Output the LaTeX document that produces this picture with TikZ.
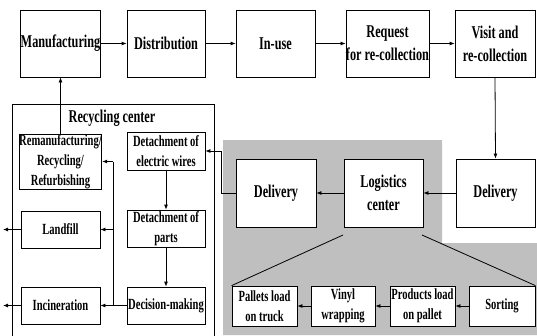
\documentclass[tikz,border=0pt]{standalone}
\usepackage{fontspec}
\setmainfont{Liberation Serif}[FakeStretch=0.68]
\usetikzlibrary{arrows.meta}
\begin{document}
\begin{tikzpicture}[x=1pt,y=-1pt,
  box/.style={draw,fill=white,line width=0.8pt,inner sep=0pt,align=center,
    font=\bfseries\fontsize{18}{23}\selectfont},
  sbox/.style={box,font=\bfseries\fontsize{15.5}{20}\selectfont},
  arr/.style={line width=0.8pt,-{Latex[length=5pt,width=4pt]}},
  ln/.style={line width=0.8pt}]
\useasboundingbox (0,0) rectangle (537,335);
% gray logistics area
\fill[gray!50] (223,140) -- (442,140) -- (442,243) -- (537,243) -- (537,335) -- (223,335) -- cycle;
% recycling center frame
\draw[ln] (12,340) -- (12,104) -- (214,104) -- (214,340);
\node[font=\bfseries\fontsize{18}{21}\selectfont] (rc) at (112,118) {Recycling center};
% top row
\node[box,minimum width=79,minimum height=67] (man) at (60.5,43.5) {Manufacturing};
\node[box,minimum width=78,minimum height=67] (dist) at (166,43.5) {Distribution};
\node[box,minimum width=79,minimum height=67] (inuse) at (275.5,43.5) {In-use};
\node[box,minimum width=83,minimum height=67] (req) at (387.5,43.5) {Request\\for re-collection};
\node[box,minimum width=80,minimum height=67] (visit) at (495,43.5) {Visit and\\re-collection};
% recycling center contents
\node[sbox,minimum width=79,minimum height=55] (reman) at (60.5,161.5) {Remanufacturing/\\Recycling/\\Refurbishing};
\node[sbox,minimum width=78,minimum height=38] (wires) at (166,151) {Detachment of\\electric wires};
\node[sbox,minimum width=78,minimum height=37] (parts) at (166,228.5) {Detachment of\\parts};
\node[sbox,minimum width=78,minimum height=37] (dec) at (166,305.5) {Decision-making};
\node[sbox,minimum width=79,minimum height=37] (land) at (60.5,229.5) {Landfill};
\node[sbox,minimum width=79,minimum height=37] (inc) at (60.5,305.5) {Incineration};
% logistics
\node[box,minimum width=80,minimum height=68] (dell) at (276,193) {Delivery};
\node[box,minimum width=79,minimum height=68] (log) at (383.5,193) {Logistics\\center};
\node[box,minimum width=79,minimum height=68] (delr) at (495.5,193) {Delivery};
\node[sbox,minimum width=65,minimum height=40] (pal) at (264.5,306) {Pallets load\\on truck};
\node[sbox,minimum width=64,minimum height=40] (vin) at (343,306) {Vinyl\\wrapping};
\node[sbox,minimum width=65,minimum height=40] (prod) at (422.5,306) {Products load\\on pallet};
\node[sbox,minimum width=66,minimum height=40] (sort) at (502,306) {Sorting};
% coordinates
\coordinate (bus1) at (113,161.5);
\coordinate (bus2) at (113,229.5);
\coordinate (bus3) at (113,305.5);
\coordinate (outl) at (3,229.5);
\coordinate (outi) at (3,305.5);
\coordinate (j1) at (221,193);
\coordinate (j2) at (221,151);
\coordinate (l1) at (343,235);
\coordinate (l2) at (422,235);
% top row arrows
\draw[arr] (man) -- (dist);
\draw[arr] (dist) -- (inuse);
\draw[arr] (inuse) -- (req);
\draw[arr] (req) -- (visit);
\draw[arr] (visit.south) -- (delr.north);
\draw[arr] (delr) -- (log);
\draw[arr] (log) -- (dell);
\draw[arr] (dell.west) -- (j1) -- (j2) -- (wires.east);
\draw[arr] (wires) -- (parts);
\draw[arr] (parts) -- (dec);
\draw[arr] (dec) -- (inc);
\draw[ln] (bus3) -- (bus1);
\draw[arr] (bus1) -- (reman.east);
\draw[arr] (bus2) -- (land.east);
\draw[arr] (land) -- (outl);
\draw[arr] (inc) -- (outi);
\draw[arr] (reman) -- (man);
% logistics detail
\draw[ln] (l1) -- (pal.north west);
\draw[ln] (l2) -- (sort.north east);
\draw[arr] (sort) -- (prod);
\draw[arr] (prod) -- (vin);
\draw[arr] (vin) -- (pal);
\end{tikzpicture}
\end{document}
